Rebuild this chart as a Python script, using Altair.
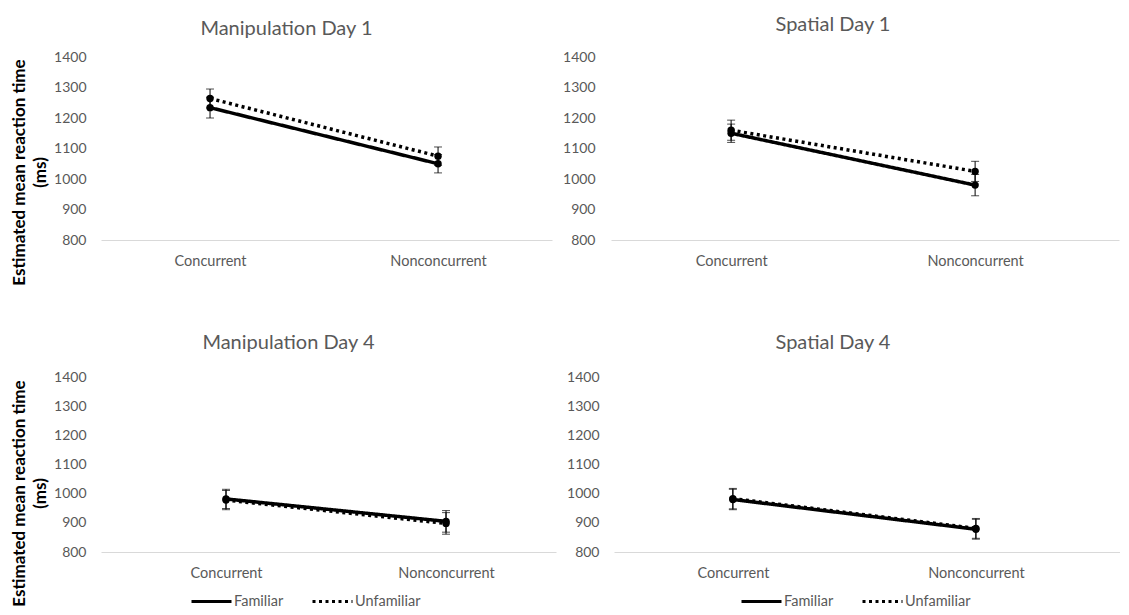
import altair as alt
import pandas as pd

categories = ["Concurrent", "Nonconcurrent"]
series = ["Familiar", "Unfamiliar"]
panel_titles = ["Manipulation Day 1", "Spatial Day 1", "Manipulation Day 4", "Spatial Day 4"]
y_ticks = [800, 900, 1000, 1100, 1200, 1300, 1400]
y_title = ["Estimated mean reaction time", "(ms)"]

# estimated mean reaction time (ms), [Concurrent, Nonconcurrent]
manip1_familiar = [1234, 1050]
manip1_unfamiliar = [1264, 1075]
spatial1_familiar = [1150, 980]
spatial1_unfamiliar = [1160, 1025]
manip4_familiar = [982, 905]
manip4_unfamiliar = [978, 898]
spatial4_familiar = [980, 878]
spatial4_unfamiliar = [983, 881]

# error bar half-widths (ms)
manip1_err_familiar = [34, 30]
manip1_err_unfamiliar = [31, 30]
spatial1_err_familiar = [30, 35]
spatial1_err_unfamiliar = [33, 33]
manip4_err_familiar = [33, 37]
manip4_err_unfamiliar = [33, 37]
spatial4_err_familiar = [35, 34]
spatial4_err_unfamiliar = [35, 34]

GRAY = "#595959"
FONT = "Lato"


def make_df(fam, unf, efam, eunf):
    rows = []
    for s, vals, errs in [("Familiar", fam, efam), ("Unfamiliar", unf, eunf)]:
        for c, v, e in zip(categories, vals, errs):
            rows.append({"category": c, "series": s, "value": v, "lo": v - e, "hi": v + e})
    return pd.DataFrame(rows)


def panel(df, title, width, height, pad, align, title_dx, title_offset,
          ytitle, label_pad, title_y=None, legend_x=None, legend_y=None):
    xenc = alt.X("category:N", sort=categories,
                 scale=alt.Scale(type="point", padding=pad, align=align),
                 axis=alt.Axis(title=None, labelAngle=0, ticks=False, tickSize=0,
                               domainColor="#d9d9d9", domainWidth=1,
                               labelPadding=14, labelFontSize=14.5, labelColor=GRAY,
                               labelFont=FONT, grid=False))
    yscale = alt.Scale(domain=[800, 1400], nice=False, zero=False)
    if ytitle is not None:
        yaxis = alt.Axis(values=y_ticks, format="d", title=ytitle,
                         titleFontSize=17, titleFontWeight="bold", titleColor="black",
                         titleFont=FONT, titleLineHeight=21, titlePadding=4, titleY=title_y,
                         domain=False, ticks=False, tickSize=0, grid=False,
                         labelPadding=label_pad, labelFontSize=14, labelColor=GRAY, labelFont=FONT)
    else:
        yaxis = alt.Axis(values=y_ticks, format="d", title=None, domain=False, ticks=False,
                         tickSize=0, grid=False, labelPadding=label_pad, labelFontSize=14,
                         labelColor=GRAY, labelFont=FONT)
    if legend_x is not None:
        leg = alt.Legend(title=None, orient="none", legendX=legend_x, legendY=legend_y,
                         direction="horizontal", symbolType="stroke", symbolSize=1600,
                         symbolStrokeWidth=3, symbolStrokeColor="black",
                         labelFontSize=14.5, labelColor=GRAY, labelFont=FONT,
                         labelOffset=1, columnPadding=22)
    else:
        leg = None
    dash = alt.StrokeDash("series:N", scale=alt.Scale(domain=series, range=[[1, 0], [3, 3.5]]),
                          legend=leg)
    base = alt.Chart(df).encode(x=xenc)
    line = base.mark_line(color="black", strokeWidth=3.5, strokeCap="butt").encode(
        y=alt.Y("value:Q", scale=yscale, axis=yaxis), strokeDash=dash, detail="series:N")
    pts = base.mark_point(filled=True, color="black", size=55, opacity=1).encode(
        y=alt.Y("value:Q", scale=yscale, axis=yaxis), detail="series:N")
    rule = base.mark_rule(color="black", strokeWidth=1).encode(
        y=alt.Y("lo:Q", scale=yscale, axis=yaxis), y2="hi:Q")
    cap_lo = base.mark_tick(color="black", thickness=1, size=8, orient="horizontal").encode(
        y=alt.Y("lo:Q", scale=yscale, axis=yaxis))
    cap_hi = base.mark_tick(color="black", thickness=1, size=8, orient="horizontal").encode(
        y=alt.Y("hi:Q", scale=yscale, axis=yaxis))
    return alt.layer(rule, cap_lo, cap_hi, line, pts).properties(
        width=width, height=height,
        title=alt.TitleParams(title, fontSize=20, font=FONT, fontWeight="normal", color=GRAY,
                              anchor="middle", dx=title_dx, offset=title_offset))


df1 = make_df(manip1_familiar, manip1_unfamiliar, manip1_err_familiar, manip1_err_unfamiliar)
df2 = make_df(spatial1_familiar, spatial1_unfamiliar, spatial1_err_familiar, spatial1_err_unfamiliar)
df3 = make_df(manip4_familiar, manip4_unfamiliar, manip4_err_familiar, manip4_err_unfamiliar)
df4 = make_df(spatial4_familiar, spatial4_unfamiliar, spatial4_err_familiar, spatial4_err_unfamiliar)

tl = panel(df1, panel_titles[0], 451, 183, 0.489, 0.489, -40, 11, y_title, 15, title_y=115)
tr = panel(df2, panel_titles[1], 508, 183, 0.541, 0.455, -32, 15, None, 16)
bl = panel(df3, panel_titles[2], 455, 175, 0.534, 0.532, -40, 17, y_title, 15, title_y=116,
           legend_x=89, legend_y=203)
br = panel(df4, panel_titles[3], 506, 175, 0.541, 0.452, -34, 17, None, 15,
           legend_x=126, legend_y=203)

top = alt.hconcat(tl, tr, spacing=10).resolve_scale(strokeDash="independent").resolve_legend(strokeDash="independent")
bottom = alt.hconcat(bl, br, spacing=10).resolve_scale(strokeDash="independent").resolve_legend(strokeDash="independent")

chart = alt.vconcat(top, bottom, spacing=47).resolve_scale(
    strokeDash="independent").resolve_legend(strokeDash="independent").properties(
    padding={"left": 2, "top": 7, "right": 0, "bottom": 0}
).configure_view(strokeWidth=0, stroke="transparent")

chart.save("out.html", embed_options={"renderer": "svg", "actions": False})
